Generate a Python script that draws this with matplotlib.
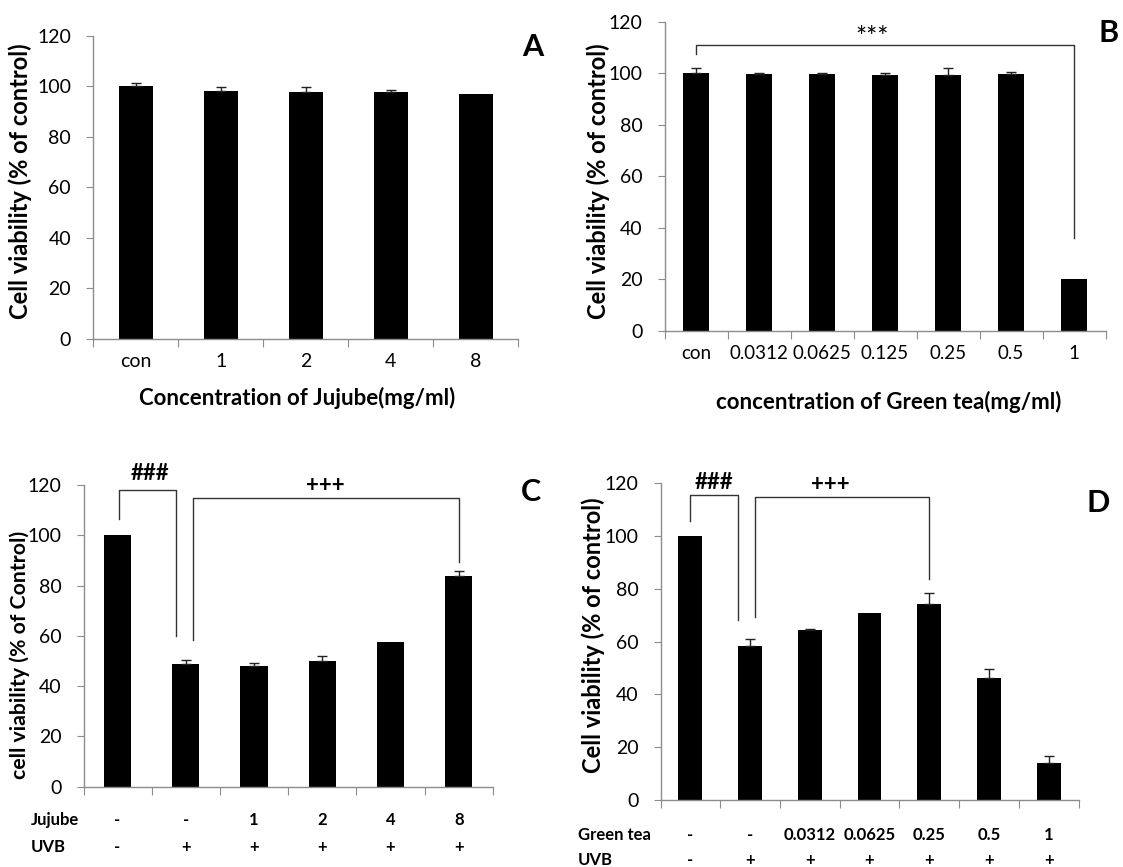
import numpy as np
import matplotlib
matplotlib.use("Agg")
import matplotlib.pyplot as plt

plt.rcParams['font.family'] = ['Lato', 'DejaVu Sans']

# ---- data ----
a_labels = ['con', '1', '2', '4', '8']
a_values = [100, 98.3, 97.6, 97.6, 97.1]
a_err = [1.2, 1.4, 2.2, 1.0, 0]

b_labels = ['con', '0.0312', '0.0625', '0.125', '0.25', '0.5', '1']
b_values = [100, 99.8, 99.8, 99.4, 99.4, 99.8, 20.2]
b_err = [2.2, 0.3, 0.3, 0.6, 2.6, 0.6, 0]

c_jujube = ['-', '-', '1', '2', '4', '8']
c_uvb = ['-', '+', '+', '+', '+', '+']
c_values = [100, 49.0, 48.1, 49.8, 57.4, 83.8]
c_err = [0, 1.4, 1.2, 2.1, 0, 2.1]

d_greentea = ['-', '-', '0.0312', '0.0625', '0.25', '0.5', '1']
d_uvb = ['-', '+', '+', '+', '+', '+', '+']
d_values = [100, 58.4, 64.3, 70.9, 74.4, 46.1, 13.9]
d_err = [0, 2.5, 0.6, 0, 4.2, 3.6, 2.9]

W, H = 1123, 867
fig = plt.figure(figsize=(W / 100, H / 100), dpi=100)

SPINE = '#8c8c8c'


def px_axes(left, right, y0, y120):
    return fig.add_axes([left / W, 1 - y0 / H, (right - left) / W, (y0 - y120) / H])


def bar_panel(ax, values, err, labels=None, xsize=14):
    n = len(values)
    x = np.arange(n)
    ax.bar(x, values, width=0.4, color='black', zorder=2)
    has_err = np.array(err) > 0
    ax.errorbar(x[has_err], np.array(values)[has_err],
                yerr=[np.zeros(has_err.sum()), np.array(err)[has_err]],
                fmt='none', ecolor='#222222', elinewidth=1, capsize=3.5,
                capthick=1, zorder=3)
    ax.set_xlim(-0.5, n - 0.5)
    ax.set_ylim(0, 120)
    ax.set_yticks(np.arange(0, 121, 20))
    ax.set_xticks(np.arange(n + 1) - 0.5)
    ax.set_xticklabels([])
    ax.set_xticks(x, minor=True)
    if labels is not None:
        ax.set_xticklabels(labels, minor=True)
    ax.tick_params(axis='x', which='major', length=6, color=SPINE, direction='out')
    ax.tick_params(axis='x', which='minor', length=0, pad=10, labelsize=xsize)
    ax.tick_params(axis='y', length=5, color=SPINE, pad=11, labelsize=14)
    for s in ['top', 'right']:
        ax.spines[s].set_visible(False)
    for s in ['left', 'bottom']:
        ax.spines[s].set_color(SPINE)
        ax.spines[s].set_linewidth(1)


def bracket(ax, x1, y1, x2, y2, ytop):
    ax.plot([x1, x1, x2, x2], [y1, ytop, ytop, y2], color='#333333', lw=1,
            clip_on=False, zorder=4)


# Panel A
axA = px_axes(93.3, 518, 339, 35.7)
bar_panel(axA, a_values, a_err, a_labels)
fig.text(20 / W, 1 - 181 / H, 'Cell viability (% of control)', rotation=90,
         ha='center', va='center', fontsize=17, fontweight='bold')
fig.text(297.5 / W, 1 - 398 / H, 'Concentration of Jujube(mg/ml)',
         ha='center', va='center', fontsize=16, fontweight='bold')
fig.text(533 / W, 1 - 47 / H, 'A', ha='center', va='center', fontsize=22, fontweight='bold')

# Panel B
axB = px_axes(664.5, 1105.6, 331, 21.7)
bar_panel(axB, b_values, b_err, b_labels, xsize=13.5)
bracket(axB, 0, 107.4, 6, 36.1, 110.9)
axB.text(2.79, 113.5, '***', ha='center', va='center', fontsize=19)
fig.text(598 / W, 1 - 181.5 / H, 'Cell viability (% of control)', rotation=90,
         ha='center', va='center', fontsize=17, fontweight='bold')
fig.text(888.5 / W, 1 - 402 / H, 'concentration of Green tea(mg/ml)',
         ha='center', va='center', fontsize=16, fontweight='bold')
fig.text(1109 / W, 1 - 33 / H, 'B', ha='center', va='center', fontsize=22, fontweight='bold')

# Panel C
axC = px_axes(83.5, 492.8, 786.7, 485)
bar_panel(axC, c_values, c_err)
bracket(axC, 0.025, 106.4, 0.85, 60, 118)
bracket(axC, 1.11, 58.3, 5.0, 89.3, 115)
axC.text(0.48, 124.6, '###', ha='center', va='center', fontsize=16, fontweight='bold')
axC.text(3.05, 120, '+++', ha='center', va='center', fontsize=16, fontweight='bold')
trC = axC.get_xaxis_transform()
for i, (j, u) in enumerate(zip(c_jujube, c_uvb)):
    axC.text(i, -(820 - 786.7) / 301.7, j, transform=trC, ha='center', va='center',
             fontsize=12, fontweight='bold')
    axC.text(i, -(847 - 786.7) / 301.7, u, transform=trC, ha='center', va='center',
             fontsize=12, fontweight='bold')
fig.text(30.5 / W, 1 - 820 / H, 'Jujube', ha='left', va='center', fontsize=12, fontweight='bold')
fig.text(30.5 / W, 1 - 847 / H, 'UVB', ha='left', va='center', fontsize=12, fontweight='bold')
fig.text(20 / W, 1 - 655 / H, 'cell viability (% of Control)', rotation=90,
         ha='center', va='center', fontsize=15.3, fontweight='bold')
fig.text(531 / W, 1 - 492 / H, 'C', ha='center', va='center', fontsize=22, fontweight='bold')

# Panel D
axD = px_axes(660.5, 1078.6, 800, 483.3)
bar_panel(axD, d_values, d_err)
bracket(axD, 0, 105.7, 0.8, 68.1, 115.6)
bracket(axD, 1.09, 69.4, 3.99, 83.9, 114.7)
axD.text(0.395, 120.3, '###', ha='center', va='center', fontsize=16, fontweight='bold')
axD.text(2.34, 119.4, '+++', ha='center', va='center', fontsize=16, fontweight='bold')
trD = axD.get_xaxis_transform()
for i, (g, u) in enumerate(zip(d_greentea, d_uvb)):
    axD.text(i, -(835 - 800) / 316.7, g, transform=trD, ha='center', va='center',
             fontsize=12, fontweight='bold')
    axD.text(i, -(860 - 800) / 316.7, u, transform=trD, ha='center', va='center',
             fontsize=12, fontweight='bold')
fig.text(578 / W, 1 - 835 / H, 'Green tea', ha='left', va='center', fontsize=12, fontweight='bold')
fig.text(578 / W, 1 - 860 / H, 'UVB', ha='left', va='center', fontsize=12, fontweight='bold')
fig.text(593 / W, 1 - 635 / H, 'Cell viability (% of control)', rotation=90,
         ha='center', va='center', fontsize=17, fontweight='bold')
fig.text(1098 / W, 1 - 503 / H, 'D', ha='center', va='center', fontsize=22, fontweight='bold')

fig.savefig('out.png', dpi=100)
